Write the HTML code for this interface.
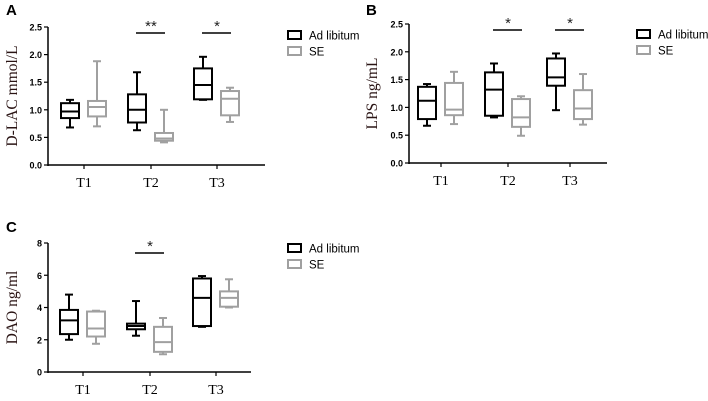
<!DOCTYPE html>
<html><head><meta charset="utf-8"><style>
body{margin:0;background:#fff;width:708px;height:401px;overflow:hidden}
svg{display:block}
text{font-family:"Liberation Sans",sans-serif}
</style></head><body>
<svg id="c" width="708" height="401"></svg>
<script>
const categories=["T1","T2","T3"];
const aBlack=[[0.68,0.85,0.97,1.12,1.18],[0.63,0.77,1.0,1.28,1.68],[1.18,1.19,1.45,1.75,1.96]];
const aGrey=[[0.70,0.88,1.05,1.16,1.88],[0.41,0.44,0.48,0.58,1.0],[0.78,0.90,1.20,1.34,1.40]];
const aTicks=["0.0","0.5","1.0","1.5","2.0","2.5"];
const bBlack=[[0.67,0.79,1.12,1.37,1.42],[0.82,0.85,1.32,1.63,1.79],[0.95,1.39,1.54,1.88,1.97]];
const bGrey=[[0.70,0.86,0.96,1.44,1.64],[0.49,0.65,0.82,1.15,1.20],[0.69,0.79,0.98,1.31,1.60]];
const bTicks=["0.0","0.5","1.0","1.5","2.0","2.5"];
const cBlack=[[2.0,2.35,3.2,3.85,4.8],[2.25,2.65,2.85,3.0,4.4],[2.8,2.85,4.6,5.8,5.95]];
const cGrey=[[1.75,2.2,2.7,3.75,3.8],[1.1,1.25,1.85,2.8,3.35],[4.0,4.05,4.6,5.0,5.75]];
const cTicks=["0","2","4","6","8"];
const svg=document.getElementById('c');
const NS="http://www.w3.org/2000/svg";
function mk(tag,attrs,txt){const e=document.createElementNS(NS,tag);for(const k in attrs)e.setAttribute(k,attrs[k]);if(txt!==undefined)e.textContent=txt;svg.appendChild(e);return e;}
function panel(o){
  const sy=v=>o.y0-(v/o.max)*(o.y0-o.yTop);
  const L=mk('text',{x:o.lx,y:o.ly,'font-size':15,'font-weight':'bold',fill:'#000'},o.letter);
  
  
  const ax=mk('line',{x1:o.ax,y1:o.yTop,x2:o.ax,y2:o.y0+1,stroke:'#000','stroke-width':1.5});
  
  
  const xx=mk('line',{x1:o.ax,y1:o.y0,x2:o.xEnd,y2:o.y0,stroke:'#000','stroke-width':1.5});
  
  
  o.ticks.forEach((t,i)=>{const v=i*o.max/(o.ticks.length-1);const y=sy(v);
    mk('line',{x1:o.ax-4,y1:y,x2:o.ax,y2:y,stroke:'#000','stroke-width':1.2});
    const tt=mk('text',{x:o.ax-6,y:y+3.5,'font-size':9,'font-weight':'bold','text-anchor':'end'},t);
    
    });
  const yt=mk('text',{x:0,y:0,'font-size':15.5,fill:'#2a1414','text-anchor':'middle',transform:`translate(${o.ylx},${(o.y0+o.yTop)/2}) rotate(-90)`,style:'font-family:"Liberation Serif",serif'},o.ylabel);
  
  
  categories.forEach((c,i)=>{const x=o.cx[i];
    mk('line',{x1:x,y1:o.y0,x2:x,y2:o.y0+4,stroke:'#000','stroke-width':1.2});
    const ct=mk('text',{x:x,y:o.y0+22,'font-size':14,'text-anchor':'middle',style:'font-family:"Liberation Serif",serif'},c);
    
    
    [[o.black,'#000',-14],[o.grey,'#a0a0a0',13]].forEach(([d,col,off])=>{
      const s=d[i],bx=x+off,w=18,g=document.createElementNS(NS,'g');svg.appendChild(g);
      
      
      const a={stroke:col,'stroke-width':2,fill:'none'};
      const add=(t,at)=>{const m=Object.assign({},a,at);const e=document.createElementNS(NS,t);for(const k in m)e.setAttribute(k,m[k]);g.appendChild(e);};
      add('line',{x1:bx,y1:sy(s[0]),x2:bx,y2:sy(s[1])});
      add('line',{x1:bx,y1:sy(s[3]),x2:bx,y2:sy(s[4])});
      add('line',{x1:bx-4,y1:sy(s[0]),x2:bx+4,y2:sy(s[0])});
      add('line',{x1:bx-4,y1:sy(s[4]),x2:bx+4,y2:sy(s[4])});
      add('rect',{x:bx-w/2,y:sy(s[3]),width:w,height:sy(s[1])-sy(s[3])});
      add('line',{x1:bx-w/2,y1:sy(s[2]),x2:bx+w/2,y2:sy(s[2])});
    });
  });
  o.sig.forEach(([i,lab])=>{const x=o.cx[i];
    const l=mk('line',{x1:x-15,y1:o.sigY,x2:x+14,y2:o.sigY,stroke:'#000','stroke-width':1.5});
    
    
    const t=mk('text',{x:x,y:o.sigY-2,'font-size':15,'text-anchor':'middle',fill:'#222'},lab);
    
    });
  [['Ad libitum','#000',0],['SE','#a0a0a0',16]].forEach(([n,col,dy])=>{
    const r=mk('rect',{x:o.lgx,y:o.lgy+dy,width:13,height:8,fill:'none',stroke:col,'stroke-width':2});
    
    
    const t=mk('text',{x:o.lgx+21,y:o.lgy+dy+8.5,'font-size':11.5},n);
    
    });
}
panel({letter:'A',lx:6,ly:15,ax:48,y0:165,yTop:27,max:2.5,xEnd:265,ticks:aTicks,black:aBlack,grey:aGrey,cx:[84,151,217],ylabel:'D-LAC mmol/L',ylx:17,sig:[[1,'**'],[2,'*']],sigY:33,lgx:288,lgy:31});
panel({letter:'B',lx:366,ly:15,ax:409,y0:163,yTop:24,max:2.5,xEnd:607,ticks:bTicks,black:bBlack,grey:bGrey,cx:[441,508,570],ylabel:'LPS ng/mL',ylx:377,sig:[[1,'*'],[2,'*']],sigY:30,lgx:637,lgy:30});
panel({letter:'C',lx:6,ly:232,ax:48,y0:372,yTop:243,max:8,xEnd:251,ticks:cTicks,black:cBlack,grey:cGrey,cx:[83,150,216],ylabel:'DAO ng/ml',ylx:17,sig:[[1,'*']],sigY:253,lgx:288,lgy:244});
</script>
</body></html>
